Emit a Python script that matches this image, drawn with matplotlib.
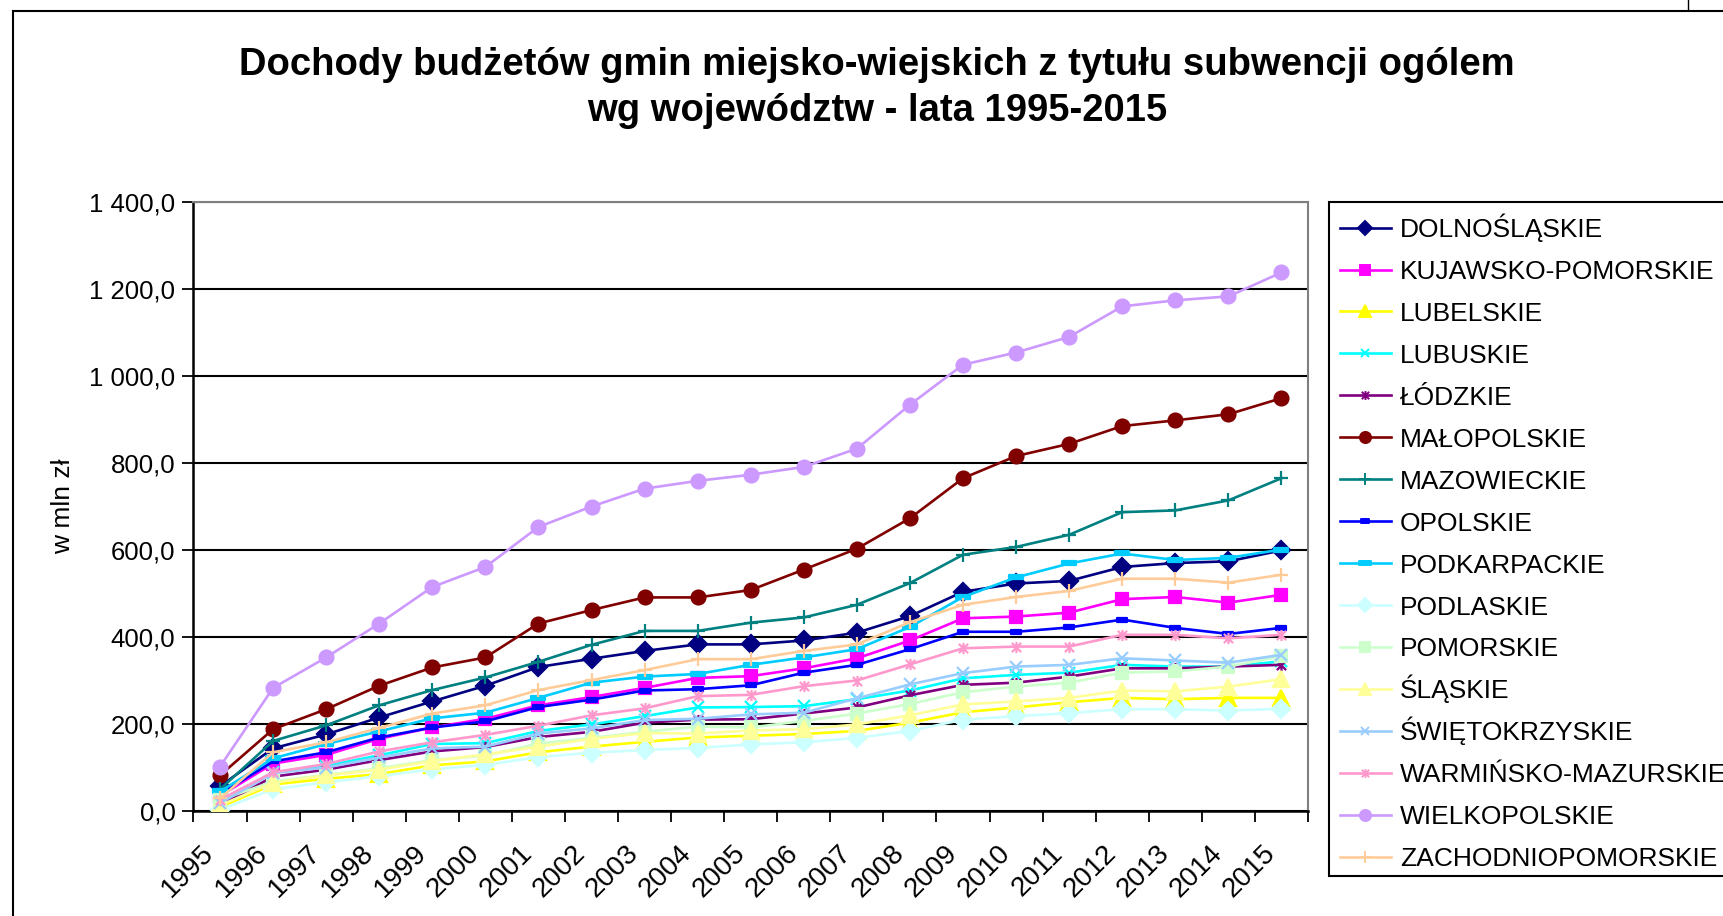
import matplotlib
matplotlib.use("Agg")
import matplotlib.pyplot as plt
import numpy as np
from matplotlib.path import Path
from matplotlib.lines import Line2D
from matplotlib.patches import Rectangle
from matplotlib.ticker import FuncFormatter
from matplotlib.transforms import ScaledTranslation

plt.rcParams["font.family"] = ["Liberation Sans", "DejaVu Sans"]

# ── dane ─────────────────────────────────────────────────────────────────────
years = [str(y) for y in range(1995, 2016)]

dolnoslaskie = [57, 144, 176, 215, 252, 288, 331, 350, 368, 383, 383, 392, 410, 448, 504, 523, 529, 561, 570, 574, 599]
kujawsko     = [35, 109, 129, 166, 192, 212, 243, 262, 283, 306, 310, 328, 351, 392, 443, 447, 456, 487, 492, 479, 497]
lubelskie    = [9, 61, 74, 85, 105, 114, 135, 148, 159, 169, 173, 177, 184, 203, 227, 238, 250, 260, 257, 260, 260]
lubuskie     = [20, 89, 104, 128, 154, 156, 184, 199, 218, 238, 239, 241, 257, 277, 305, 313, 318, 336, 332, 332, 344]
lodzkie      = [13, 79, 95, 117, 137, 147, 170, 182, 203, 210, 211, 224, 238, 266, 290, 295, 309, 328, 328, 332, 336]
malopolskie  = [82, 188, 234, 288, 330, 353, 431, 462, 491, 491, 508, 555, 603, 673, 765, 816, 844, 885, 898, 912, 949]
mazowieckie  = [50, 161, 197, 243, 278, 307, 343, 382, 414, 414, 433, 445, 474, 524, 589, 607, 635, 687, 691, 714, 765]
opolskie     = [39, 114, 135, 169, 192, 206, 239, 256, 277, 280, 289, 318, 336, 372, 412, 412, 422, 440, 421, 407, 421]
podkarpackie = [45, 121, 154, 183, 213, 226, 260, 295, 309, 315, 336, 353, 372, 423, 492, 537, 569, 592, 577, 582, 601]
podlaskie    = [3, 50, 66, 80, 96, 106, 124, 134, 140, 145, 153, 158, 168, 184, 210, 218, 225, 234, 234, 231, 235]
pomorskie    = [25, 68, 83, 98, 117, 127, 155, 168, 182, 194, 192, 207, 224, 246, 273, 286, 295, 318, 321, 332, 356]
slaskie      = [13, 65, 82, 95, 115, 130, 148, 166, 179, 178, 185, 188, 199, 220, 245, 252, 260, 277, 275, 286, 303]
swietokrz    = [18, 87, 100, 123, 144, 148, 178, 190, 209, 212, 222, 226, 259, 291, 317, 332, 336, 351, 346, 341, 359]
warminsko    = [26, 89, 108, 137, 158, 175, 196, 220, 236, 264, 267, 287, 300, 337, 374, 378, 378, 405, 405, 397, 405]
wielkopolsk  = [102, 283, 353, 431, 515, 561, 653, 700, 741, 759, 773, 791, 833, 934, 1026, 1054, 1090, 1160, 1174, 1183, 1238]
zachodniopom = [29, 135, 158, 191, 224, 243, 278, 301, 324, 349, 349, 368, 383, 434, 474, 492, 506, 534, 534, 525, 543]

# markery w stylu Excela
STAR = Path([(-1, -1), (1, 1), (-1, 1), (1, -1), (0, -1.2), (0, 1.2)],
            [Path.MOVETO, Path.LINETO, Path.MOVETO, Path.LINETO, Path.MOVETO, Path.LINETO])
DASH = Path([(-1, -0.4), (1, -0.4), (1, 0.4), (-1, 0.4), (-1, -0.4)],
            [Path.MOVETO, Path.LINETO, Path.LINETO, Path.LINETO, Path.CLOSEPOLY])
LDASH = Path([(-1, -0.28), (1, -0.28), (1, 0.28), (-1, 0.28), (-1, -0.28)],
             [Path.MOVETO, Path.LINETO, Path.LINETO, Path.LINETO, Path.CLOSEPOLY])

series = [
    ("DOLNOŚLĄSKIE",        dolnoslaskie, "#000080", "D", 9),
    ("KUJAWSKO-POMORSKIE",  kujawsko,     "#FF00FF", "s", 9),
    ("LUBELSKIE",           lubelskie,    "#FFFF00", "^", 11),
    ("LUBUSKIE",            lubuskie,     "#00FFFF", "x", 8),
    ("ŁÓDZKIE",             lodzkie,      "#800080", STAR, 8),
    ("MAŁOPOLSKIE",         malopolskie,  "#800000", "o", 10),
    ("MAZOWIECKIE",         mazowieckie,  "#008080", "+", 10),
    ("OPOLSKIE",            opolskie,     "#0000FF", DASH, 7),
    ("PODKARPACKIE",        podkarpackie, "#00CCFF", LDASH, 10),
    ("PODLASKIE",           podlaskie,    "#CCFFFF", "D", 9),
    ("POMORSKIE",           pomorskie,    "#CCFFCC", "s", 9),
    ("ŚLĄSKIE",             slaskie,      "#FFFF99", "^", 11),
    ("ŚWIĘTOKRZYSKIE",      swietokrz,    "#99CCFF", "x", 8),
    ("WARMIŃSKO-MAZURSKIE", warminsko,    "#FF99CC", STAR, 8),
    ("WIELKOPOLSKIE",       wielkopolsk,  "#CC99FF", "o", 10),
    ("ZACHODNIOPOMORSKIE",  zachodniopom, "#FFCC99", "+", 10),
]

W, H = 1724, 916
fig = plt.figure(figsize=(W / 100, H / 100), dpi=100)
fig.patch.set_facecolor("white")
ax = fig.add_axes([193.5 / W, 1 - 811 / H, (1308 - 193.5) / W, (811 - 202) / H])

x = np.arange(len(years))
for name, vals, col, mk, ms in series:
    ax.plot(x, vals, color=col, lw=1.9, marker=mk, markersize=ms,
            markerfacecolor=col, markeredgecolor=col, markeredgewidth=1.6,
            label=name, zorder=3)

ax.set_xlim(-0.5, len(years) - 0.5)
ax.set_ylim(0, 1400)
ax.set_yticks(np.arange(0, 1401, 200))
ax.yaxis.set_major_formatter(FuncFormatter(
    lambda v, p: f"{v:,.1f}".replace(",", " ").replace(".", ",")))
ax.grid(axis="y", color="black", lw=1.5, zorder=1)
ax.set_axisbelow(True)

ax.set_xticks(x)
ax.set_xticks(np.arange(-0.5, len(years), 1), minor=True)
ax.tick_params(axis="x", which="major", length=0, pad=21)
ax.tick_params(axis="x", which="minor", length=8, width=1.3, direction="out")
ax.tick_params(axis="y", length=8, width=1.3, direction="out", labelsize=18.5, pad=5)
ax.set_xticklabels(years, rotation=45, ha="right", rotation_mode="anchor", fontsize=20)
# przesunięcie etykiet lat w lewo (po tick_params, żeby nie zostało nadpisane)
for lab in ax.get_xticklabels():
    lab.set_transform(lab.get_transform() + ScaledTranslation(-19 / 100, 0, fig.dpi_scale_trans))

for s in ["left", "bottom"]:
    ax.spines[s].set_color("black")
    ax.spines[s].set_linewidth(1.8)
for s in ["top", "right"]:
    ax.spines[s].set_color("#808080")
    ax.spines[s].set_linewidth(1.5)

fig.text(63 / W, 1 - 506 / H, "w mln zł", rotation=90, ha="center", va="center", fontsize=19)

fig.text(877 / W, 1 - 65 / H, "Dochody budżetów gmin miejsko-wiejskich z tytułu subwencji ogólem",
         ha="center", va="center", fontsize=27.5, fontweight="bold")
fig.text(877 / W, 1 - 111 / H, "wg województw - lata 1995-2015",
         ha="center", va="center", fontsize=27.5, fontweight="bold")

# legenda (ręcznie, równe odstępy wierszy)
fig.add_artist(Rectangle((1329 / W, 1 - 876 / H), (1740 - 1329) / W, (876 - 202) / H,
                         transform=fig.transFigure, facecolor="white", edgecolor="black",
                         lw=1.5, zorder=5))
for i, (name, vals, col, mk, ms) in enumerate(series):
    yc = 227.6 + i * 41.93
    yf = 1 - yc / H
    fig.add_artist(Line2D([1340 / W, 1391 / W], [yf, yf], transform=fig.transFigure,
                          color=col, lw=1.9, zorder=6))
    fig.add_artist(Line2D([1365.5 / W], [yf], transform=fig.transFigure, color=col,
                          marker=mk, markersize=ms * 0.8, markerfacecolor=col,
                          markeredgecolor=col, markeredgewidth=1.4, zorder=7))
    fig.text(1400 / W, 1 - (yc + 9.6) / H, name, ha="left", va="baseline",
             fontsize=19, zorder=7)

# ramka obszaru wykresu
fig.add_artist(Line2D([13 / W, 13 / W], [0, 1 - 11 / H], transform=fig.transFigure, color="black", lw=1.5))
fig.add_artist(Line2D([13 / W, 1], [1 - 11 / H, 1 - 11 / H], transform=fig.transFigure, color="black", lw=1.5))
fig.add_artist(Line2D([1688 / W, 1688 / W], [1, 1 - 9 / H], transform=fig.transFigure, color="black", lw=1))

plt.savefig("out.png", dpi=100, facecolor="white")
plt.close()
